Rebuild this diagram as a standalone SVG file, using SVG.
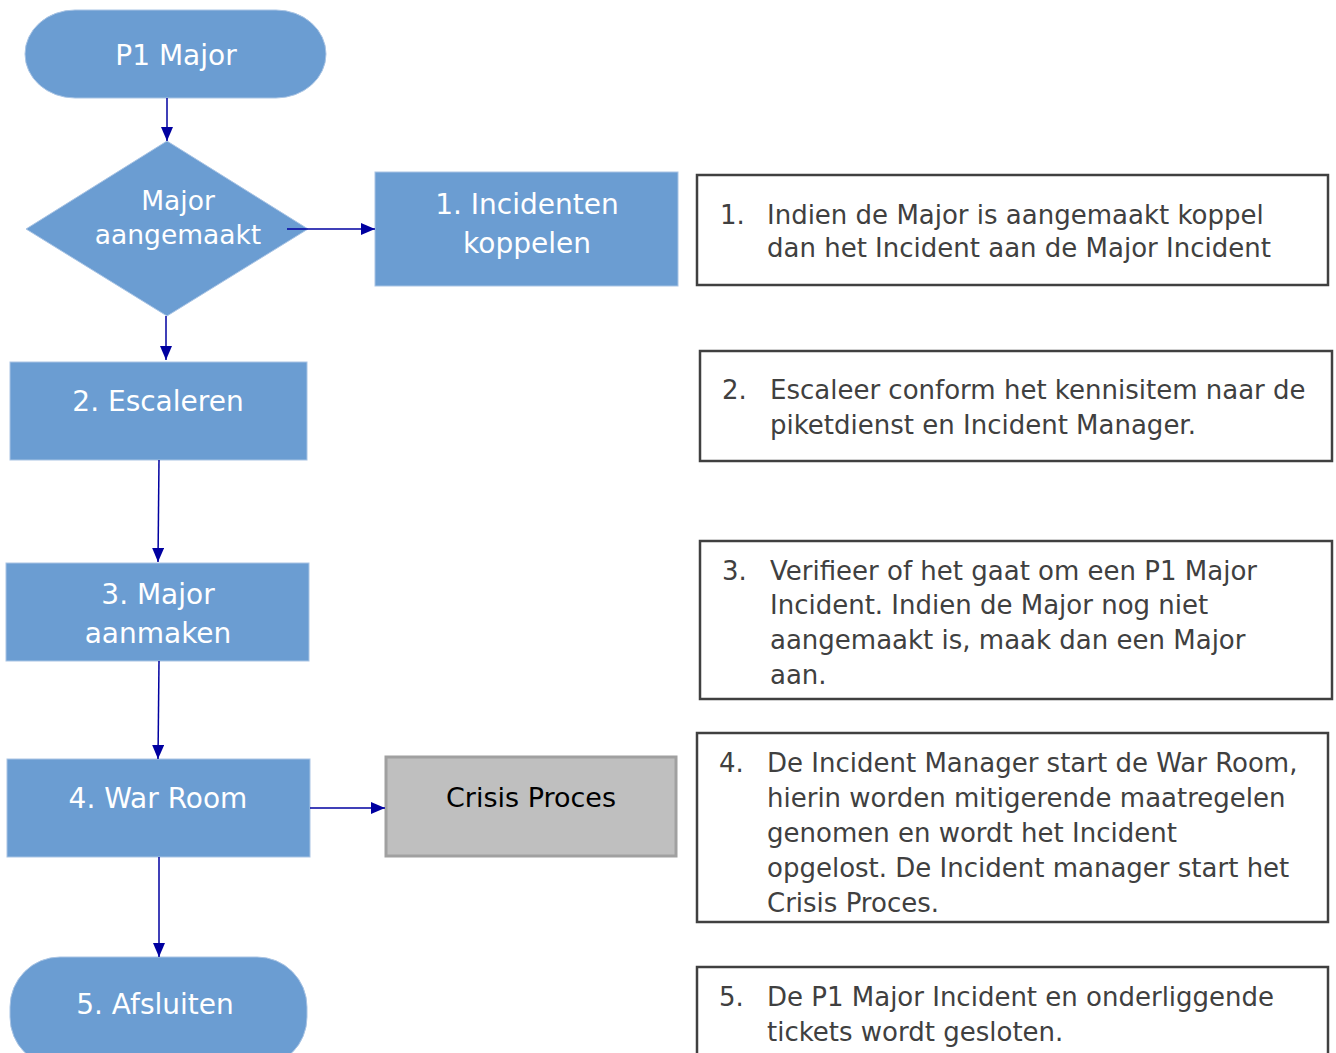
<svg xmlns="http://www.w3.org/2000/svg" width="1336" height="1053" viewBox="0 0 1336 1053">
<style>
.n{fill:#6b9dd2;stroke:#a9c4e4;stroke-width:1}
.nt{fill:#ffffff;font-family:"DejaVu Sans",sans-serif;font-size:28px;text-anchor:middle;dominant-baseline:central}
.g{fill:#bfbfbf;stroke:#a0a0a0;stroke-width:3}
.gt{fill:#000000;font-family:"DejaVu Sans",sans-serif;font-size:27px;text-anchor:middle;dominant-baseline:central}
.d{fill:#ffffff;stroke:#404040;stroke-width:2.5}
.dt{fill:#404040;font-family:"DejaVu Sans",sans-serif;font-size:26px;dominant-baseline:central}
.c{stroke:#0000a0;stroke-width:1.5;fill:none;marker-end:url(#ah)}
</style>
<defs>
<marker id="ah" markerWidth="14" markerHeight="12" refX="14" refY="6" orient="auto" markerUnits="userSpaceOnUse">
<path d="M0,0 L14,6 L0,12 Z" fill="#0000a0"/>
</marker>
</defs>
<rect width="1336" height="1053" fill="#ffffff"/>
<g id="p1major">
<rect class="n" x="25" y="10" width="301" height="88" rx="50" ry="44"/>
<text class="nt" x="176" y="55">P1 Major</text>
</g>
<g id="diamond">
<polygon class="n" points="167,141 308,229 167,316 26,229"/>
<text class="nt" x="178" y="200" style="font-size:26.5px">Major</text>
<text class="nt" x="178" y="234" style="font-size:26.5px">aangemaakt</text>
</g>
<g id="step1">
<rect class="n" x="375" y="172" width="303" height="114"/>
<text class="nt" x="527" y="204">1. Incidenten</text>
<text class="nt" x="527" y="243">koppelen</text>
</g>
<g id="step2">
<rect class="n" x="10" y="362" width="297" height="98"/>
<text class="nt" x="158" y="401">2. Escaleren</text>
</g>
<g id="step3">
<rect class="n" x="6" y="563" width="303" height="98"/>
<text class="nt" x="158" y="594">3. Major</text>
<text class="nt" x="158" y="633">aanmaken</text>
</g>
<g id="step4">
<rect class="n" x="7" y="759" width="303" height="98"/>
<text class="nt" x="158" y="798">4. War Room</text>
</g>
<g id="crisis">
<rect class="g" x="386" y="757" width="290" height="99"/>
<text class="gt" x="531" y="797">Crisis Proces</text>
</g>
<g id="step5">
<rect class="n" x="10" y="957" width="297" height="110" rx="50" ry="50"/>
<text class="nt" x="155" y="1004">5. Afsluiten</text>
</g>
<g id="desc1">
<rect class="d" x="697" y="175" width="631" height="110"/>
<text class="dt" x="720" y="215">1.</text>
<text class="dt" x="767" y="215">Indien de Major is aangemaakt koppel</text>
<text class="dt" x="767" y="248">dan het Incident aan de Major Incident</text>
</g>
<g id="desc2">
<rect class="d" x="700" y="351" width="632" height="110"/>
<text class="dt" x="722" y="390">2.</text>
<text class="dt" x="770" y="390">Escaleer conform het kennisitem naar de</text>
<text class="dt" x="770" y="425">piketdienst en Incident Manager.</text>
</g>
<g id="desc3">
<rect class="d" x="700" y="541" width="632" height="158"/>
<text class="dt" x="722" y="571">3.</text>
<text class="dt" x="770" y="571">Verifieer of het gaat om een P1 Major</text>
<text class="dt" x="770" y="605">Incident. Indien de Major nog niet</text>
<text class="dt" x="770" y="640">aangemaakt is, maak dan een Major</text>
<text class="dt" x="770" y="675">aan.</text>
</g>
<g id="desc4">
<rect class="d" x="697" y="733" width="631" height="189"/>
<text class="dt" x="719" y="763">4.</text>
<text class="dt" x="767" y="763">De Incident Manager start de War Room,</text>
<text class="dt" x="767" y="798">hierin worden mitigerende maatregelen</text>
<text class="dt" x="767" y="833">genomen en wordt het Incident</text>
<text class="dt" x="767" y="868">opgelost. De Incident manager start het</text>
<text class="dt" x="767" y="903">Crisis Proces.</text>
</g>
<g id="desc5">
<rect class="d" x="697" y="967" width="631" height="110"/>
<text class="dt" x="719" y="997">5.</text>
<text class="dt" x="767" y="997">De P1 Major Incident en onderliggende</text>
<text class="dt" x="767" y="1032">tickets wordt gesloten.</text>
</g>
<g id="connectors">
<line class="c" x1="167" y1="98" x2="167" y2="141"/>
<line class="c" x1="287" y1="229" x2="375" y2="229"/>
<line class="c" x1="166" y1="316" x2="166" y2="360"/>
<line class="c" x1="159" y1="460" x2="158" y2="562"/>
<line class="c" x1="159" y1="661" x2="158" y2="759"/>
<line class="c" x1="310" y1="808" x2="385" y2="808"/>
<line class="c" x1="159" y1="857" x2="159" y2="957"/>
</g>
</svg>
